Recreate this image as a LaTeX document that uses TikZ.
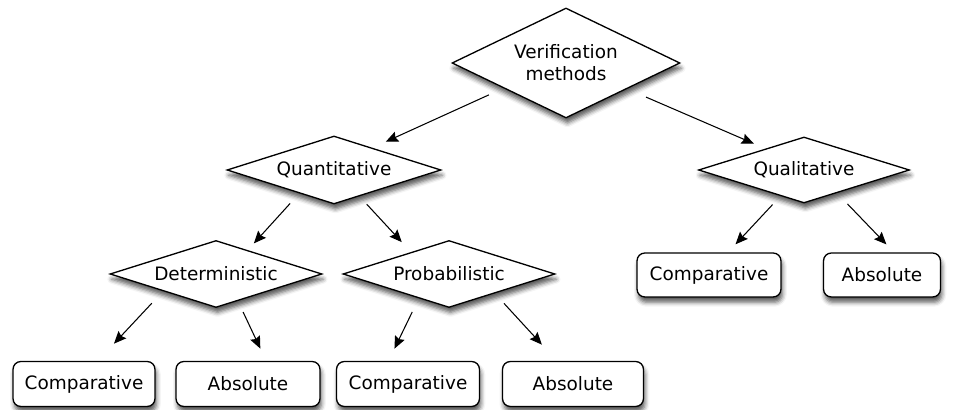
\documentclass[tikz,border=0pt]{standalone}
\usepackage{fontspec}
\setmainfont{DejaVu Sans}
\usetikzlibrary{shapes.geometric, arrows.meta, shadows.blur}

\begin{document}
\begin{tikzpicture}[>={Stealth[length=7pt,width=6pt,inset=1pt]},
  every node/.style={font=\fontsize{10.5}{12.4}\selectfont},
  choice/.style={diamond, draw, line width=0.75pt, fill=white, aspect=3,
    inner sep=0.5pt, minimum width=4.24cm, minimum height=1.34cm,
    blur shadow={shadow xshift=0.8pt, shadow yshift=-3pt,
      shadow blur radius=2.5pt, shadow opacity=65}},
  leaf/.style={rectangle, draw, line width=0.75pt, fill=white,
    rounded corners=4.5pt, minimum height=0.9cm,
    blur shadow={shadow xshift=0.8pt, shadow yshift=-3pt,
      shadow blur radius=2.5pt, shadow opacity=65}},
  link/.style={->, line width=0.6pt, shorten <=0.27cm, shorten >=0.27cm}
]
  \useasboundingbox (0,0) rectangle (19.24,8.2);

  % Root and first level
  \node[choice, aspect=2, minimum width=4.56cm, minimum height=2.2cm, align=center]
    (vm) at (11.32,6.94) {Verification\\methods};
  \node[choice, minimum width=4.28cm, minimum height=1.36cm] (quant) at (6.68,4.80) {Quantitative};
  \node[choice, minimum width=4.22cm, minimum height=1.32cm] (qual) at (16.08,4.80) {Qualitative};

  % Second level
  \node[choice] (det) at (4.32,2.72) {Deterministic};
  \node[choice] (prob) at (8.98,2.72) {Probabilistic};
  \node[leaf, minimum width=2.88cm, minimum height=0.88cm] (qcomp) at (14.18,2.70) {Comparative};
  \node[leaf, minimum width=2.34cm, minimum height=0.88cm] (qabs) at (17.64,2.70) {Absolute};

  % Leaves at the bottom
  \node[leaf, minimum width=2.84cm] (dcomp) at (1.68,0.52) {Comparative};
  \node[leaf, minimum width=2.88cm] (dabs) at (4.96,0.52) {Absolute};
  \node[leaf, minimum width=2.86cm] (pcomp) at (8.16,0.52) {Comparative};
  \node[leaf, minimum width=2.82cm] (pabs) at (11.46,0.52) {Absolute};

  % Arrows
  \draw[link, shorten <=0.32cm, shorten >=0.29cm] (vm.202) -- (quant.30);
  \draw[link, shorten <=0.41cm, shorten >=0.25cm] (vm.337) -- (qual.151);
  \draw[link, shorten >=0.18cm] (quant.214) -- (det.37);
  \draw[link, shorten <=0.21cm] (quant.314) -- (prob.150);
  \draw[link, shorten <=0.33cm, shorten >=0.47cm] (det.198) -- (dcomp.59);
  \draw[link, shorten <=0.24cm] (det.309) -- (dabs.52);
  \draw[link, shorten <=0.30cm] (prob.219) -- (pcomp.130);
  \draw[link, shorten >=0.44cm] (prob.337) -- (pabs.125);
  \draw[link, shorten <=0.23cm, shorten >=0.22cm] (qual.228) -- (qcomp.50);
  \draw[link, shorten <=0.30cm, shorten >=0.22cm] (qual.325) -- (qabs.62);
\end{tikzpicture}
\end{document}
